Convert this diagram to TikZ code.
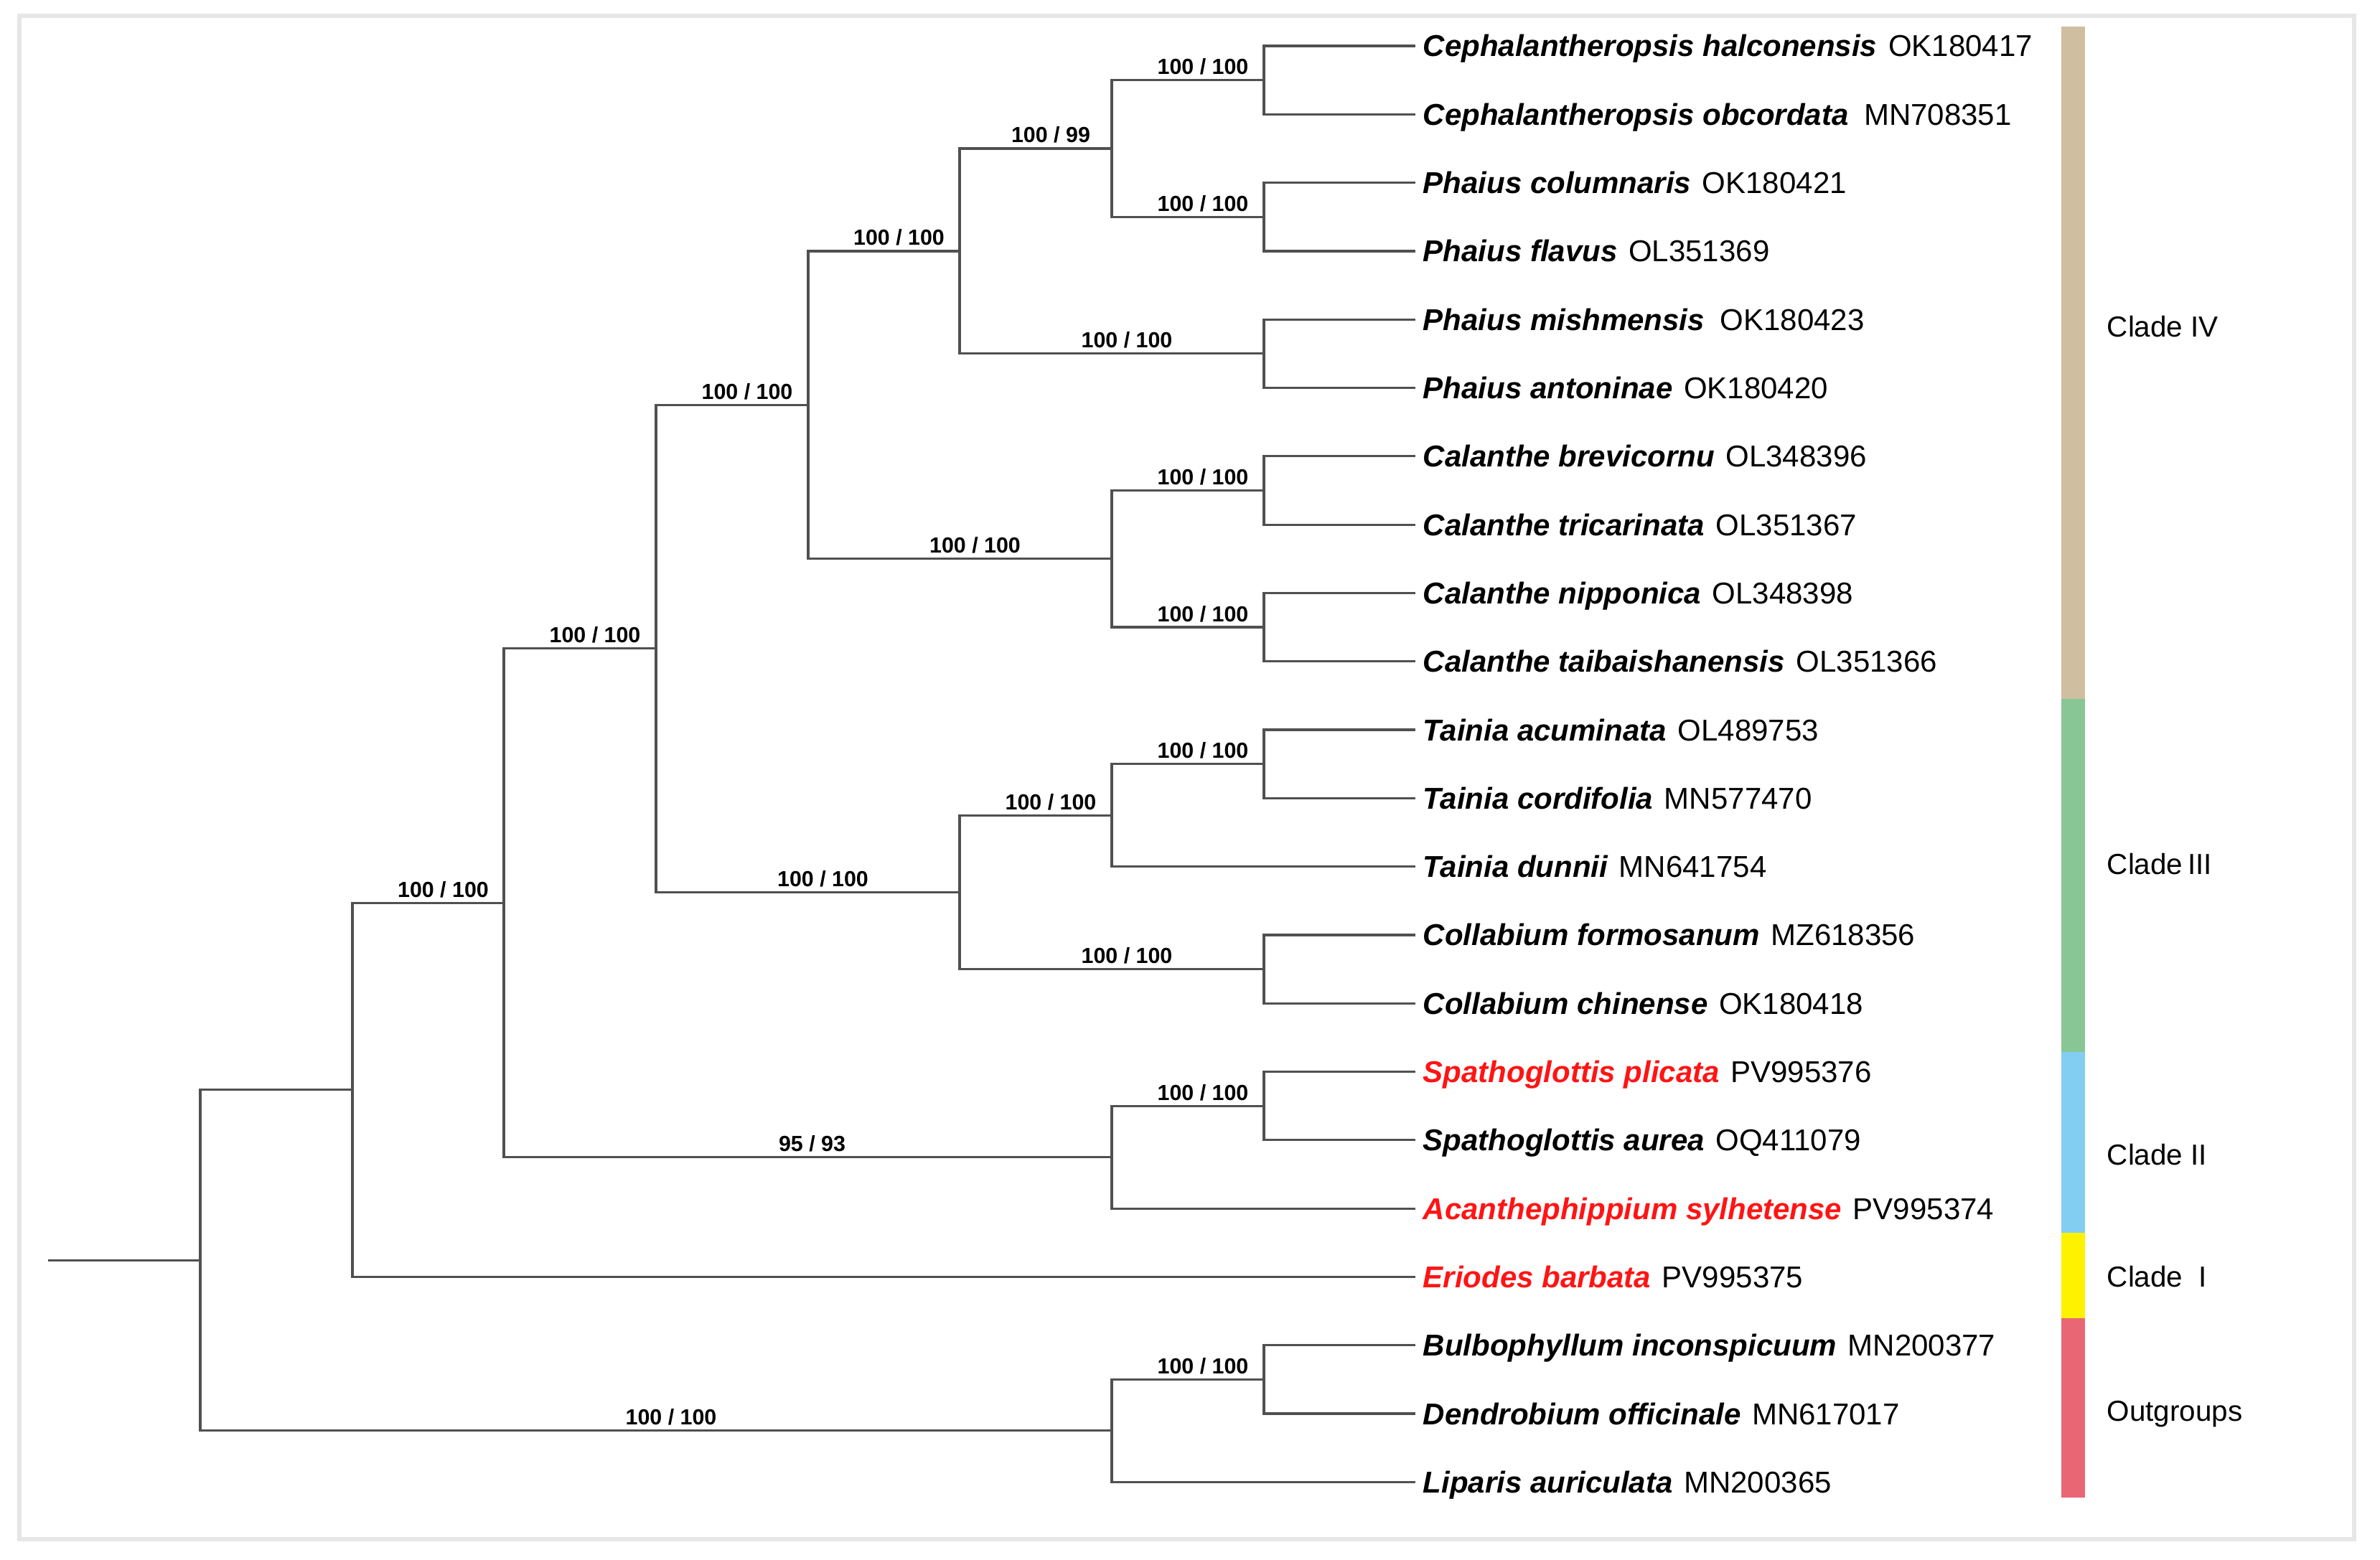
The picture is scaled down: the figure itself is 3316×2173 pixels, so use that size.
\documentclass[tikz,border=0pt]{standalone}
\usepackage{fontspec}
\setmainfont{Liberation Sans}
\usetikzlibrary{calc}
\definecolor{tanc}{RGB}{208,190,160}
\definecolor{greenc}{RGB}{136,198,149}
\definecolor{bluec}{RGB}{130,205,242}
\definecolor{yellowc}{RGB}{255,242,0}
\definecolor{redc}{RGB}{233,103,117}
\definecolor{framec}{RGB}{230,230,230}
\definecolor{linec}{RGB}{80,80,80}
\definecolor{hred}{RGB}{255,20,20}
\newcommand\spn[3][0pt]{{\bfseries\itshape #2}\ \hspace{\dimexpr1pt+#1\relax}#3}
\newcommand\rspn[3][0pt]{{\color{hred}\bfseries\itshape #2}\ \hspace{\dimexpr1pt+#1\relax}#3}
\newcommand\blab[5][21]{\node[bs] (#2) at ($(#3|-#4)!0.5!(#4)+(#1,-8)$) {#5};}
\begin{document}
\begin{tikzpicture}[x=0.25pt,y=-0.25pt,
  br/.style={draw=linec, line width=0.8pt},
  bs/.style={font=\fontsize{7.6pt}{9pt}\selectfont\bfseries, anchor=base, inner sep=0pt},
  sp/.style={font=\fontsize{10.5pt}{12pt}\selectfont, anchor=base west, inner sep=0pt},
  cl/.style={font=\fontsize{10.1pt}{12pt}\selectfont, anchor=base west, inner sep=0pt}]
\useasboundingbox (0,0) rectangle (3316,2173);
\draw[framec, line width=1.5pt] (27,22) rectangle (3280,2145);

% leaves
\foreach \i in {1,...,22} \coordinate (l\i) at (1972,{64+95.3*(\i-1)});

% internal nodes
\coordinate (r0)    at (67,1756.3);
\coordinate (root)  at (279,1756.3);
\coordinate (n119)  at (491,1518.8);
\coordinate (n118)  at (702,1258.2);
\coordinate (n115)  at (914,903.8);
\coordinate (n110)  at (1126,564.3);
\coordinate (n16)   at (1337,349.9);
\coordinate (n1234) at (1549,206.95);
\coordinate (n12)   at (1761,111.65);
\coordinate (n34)   at (1761,302.25);
\coordinate (n56)   at (1761,492.85);
\coordinate (n710)  at (1549,778.75);
\coordinate (n78)   at (1761,683.45);
\coordinate (n910)  at (1761,874.05);
\coordinate (n1115) at (1337,1243.3);
\coordinate (n1113) at (1549,1136.1);
\coordinate (n1112) at (1761,1064.65);
\coordinate (n1415) at (1761,1350.55);
\coordinate (n1618) at (1549,1612.6);
\coordinate (n1617) at (1761,1541.15);
\coordinate (n2022) at (1549,1993.8);
\coordinate (n2021) at (1761,1922.35);

% branches
\draw[br] (r0) -- (root);
\draw[br] (root) |- (n119);
\draw[br] (root) |- (n2022);
\draw[br] (n119) |- (n118);
\draw[br] (n119) |- (l19);
\draw[br] (n118) |- (n115);
\draw[br] (n118) |- (n1618);
\draw[br] (n115) |- (n110);
\draw[br] (n115) |- (n1115);
\draw[br] (n110) |- (n16);
\draw[br] (n110) |- (n710);
\draw[br] (n16) |- (n1234);
\draw[br] (n16) |- (n56);
\draw[br] (n1234) |- (n12);
\draw[br] (n1234) |- (n34);
\draw[br] (n12) |- (l1);
\draw[br] (n12) |- (l2);
\draw[br] (n34) |- (l3);
\draw[br] (n34) |- (l4);
\draw[br] (n56) |- (l5);
\draw[br] (n56) |- (l6);
\draw[br] (n710) |- (n78);
\draw[br] (n710) |- (n910);
\draw[br] (n78) |- (l7);
\draw[br] (n78) |- (l8);
\draw[br] (n910) |- (l9);
\draw[br] (n910) |- (l10);
\draw[br] (n1115) |- (n1113);
\draw[br] (n1115) |- (n1415);
\draw[br] (n1113) |- (n1112);
\draw[br] (n1113) |- (l13);
\draw[br] (n1112) |- (l11);
\draw[br] (n1112) |- (l12);
\draw[br] (n1415) |- (l14);
\draw[br] (n1415) |- (l15);
\draw[br] (n1618) |- (n1617);
\draw[br] (n1618) |- (l18);
\draw[br] (n1617) |- (l16);
\draw[br] (n1617) |- (l17);
\draw[br] (n2022) |- (n2021);
\draw[br] (n2022) |- (l22);
\draw[br] (n2021) |- (l20);
\draw[br] (n2021) |- (l21);

% support values
\blab{b1}{n1234}{n12}{100 / 100}
\blab{b2}{n1234}{n34}{100 / 100}
\blab{b3}{n16}{n1234}{100 / 99}
\blab{b4}{n16}{n56}{100 / 100}
\blab{b5}{n110}{n16}{100 / 100}
\blab{b6}{n710}{n78}{100 / 100}
\blab{b7}{n710}{n910}{100 / 100}
\blab{b8}{n110}{n710}{100 / 100}
\blab{b9}{n115}{n110}{100 / 100}
\blab{b10}{n1113}{n1112}{100 / 100}
\blab{b11}{n1115}{n1113}{100 / 100}
\blab{b12}{n1115}{n1415}{100 / 100}
\blab{b13}{n115}{n1115}{100 / 100}
\blab{b14}{n118}{n115}{100 / 100}
\blab{b15}{n1618}{n1617}{100 / 100}
\blab[6]{b16}{n118}{n1618}{95 / 93}
\blab{b17}{n119}{n118}{100 / 100}
\blab{b18}{n2022}{n2021}{100 / 100}
\blab{b19}{root}{n2022}{100 / 100}

% leaf labels
\node[sp] (t1)  at ($(l1)+(10,15)$)  {\spn{Cephalantheropsis halconensis}{OK180417}};
\node[sp] (t2)  at ($(l2)+(10,15)$)  {\spn[1.5pt]{Cephalantheropsis obcordata}{MN708351}};
\node[sp] (t3)  at ($(l3)+(10,15)$)  {\spn{Phaius columnaris}{OK180421}};
\node[sp] (t4)  at ($(l4)+(10,15)$)  {\spn{Phaius flavus}{OL351369}};
\node[sp] (t5)  at ($(l5)+(10,15)$)  {\spn[1.5pt]{Phaius mishmensis}{OK180423}};
\node[sp] (t6)  at ($(l6)+(10,15)$)  {\spn{Phaius antoninae}{OK180420}};
\node[sp] (t7)  at ($(l7)+(10,15)$)  {\spn{Calanthe brevicornu}{OL348396}};
\node[sp] (t8)  at ($(l8)+(10,15)$)  {\spn{Calanthe tricarinata}{OL351367}};
\node[sp] (t9)  at ($(l9)+(10,15)$)  {\spn{Calanthe nipponica}{OL348398}};
\node[sp] (t10) at ($(l10)+(10,15)$) {\spn{Calanthe taibaishanensis}{OL351366}};
\node[sp] (t11) at ($(l11)+(10,15)$) {\spn{Tainia acuminata}{OL489753}};
\node[sp] (t12) at ($(l12)+(10,15)$) {\spn{Tainia cordifolia}{MN577470}};
\node[sp] (t13) at ($(l13)+(10,15)$) {\spn{Tainia dunnii}{MN641754}};
\node[sp] (t14) at ($(l14)+(10,15)$) {\spn{Collabium formosanum}{MZ618356}};
\node[sp] (t15) at ($(l15)+(10,15)$) {\spn{Collabium chinense}{OK180418}};
\node[sp] (t16) at ($(l16)+(10,15)$) {\rspn{Spathoglottis plicata}{PV995376}};
\node[sp] (t17) at ($(l17)+(10,15)$) {\spn{Spathoglottis aurea}{OQ411079}};
\node[sp] (t18) at ($(l18)+(10,15)$) {\rspn{Acanthephippium sylhetense}{PV995374}};
\node[sp] (t19) at ($(l19)+(10,15)$) {\rspn{Eriodes barbata}{PV995375}};
\node[sp] (t20) at ($(l20)+(10,15)$) {\spn{Bulbophyllum inconspicuum}{MN200377}};
\node[sp] (t21) at ($(l21)+(10,15)$) {\spn{Dendrobium officinale}{MN617017}};
\node[sp] (t22) at ($(l22)+(10,15)$) {\spn{Liparis auriculata}{MN200365}};

% clade bar
\fill[tanc]    (2872,37)   rectangle (2905,974);
\fill[greenc]  (2872,974)  rectangle (2905,1466);
\fill[bluec]   (2872,1466) rectangle (2905,1718);
\fill[yellowc] (2872,1718) rectangle (2905,1837);
\fill[redc]    (2872,1837) rectangle (2905,2087);

\node[cl] (c4) at (2935,469)  {Clade IV};
\node[cl] (c3) at (2935,1218) {Clade\,III};
\node[cl] (c2) at (2935,1623) {Clade II};
\node[cl] (c1) at (2935,1793) {Clade\ \ I};
\node[cl] (cog) at (2935,1980) {Outgroups};
\end{tikzpicture}
\end{document}
